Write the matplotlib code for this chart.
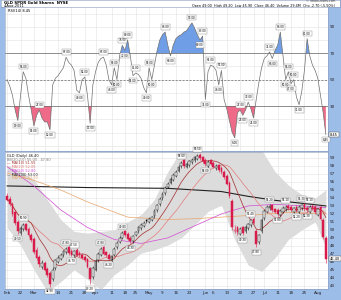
import numpy as np
import pandas as pd
import matplotlib
matplotlib.use("Agg")
import matplotlib.pyplot as plt

# ---- data ----
holidays = ["2011-02-21", "2011-04-22", "2011-05-30", "2011-07-04"]
dates = pd.bdate_range("2011-02-14", periods=120, freq="C", holidays=holidays)

opens = [54.3, 53.9, 53.3, 52.2, 51.0, 49.6, 50.1, 50.7, 50.1, 49.4,
         48.9, 47.5, 46.6, 45.4, 45.9, 45.1, 44.6, 43.8, 45.2, 46.0,
         46.4, 46.8, 47.2, 47.8, 47.3, 46.8, 47.5, 47.1, 46.9, 46.6,
         46.3, 45.2, 44.1, 45.0, 46.2, 46.9, 47.8, 47.2, 46.9, 46.2,
         46.9, 47.8, 48.5, 49.0, 49.8, 49.5, 49.0, 48.6, 49.4, 49.8,
         50.2, 50.5, 51.2, 51.0, 51.3, 51.7, 52.5, 53.2, 54.0, 54.6,
         55.4, 55.9, 56.3, 56.8, 57.4, 58.0, 58.7, 57.9, 58.1, 58.5,
         58.7, 58.9, 59.4, 59.1, 58.8, 58.0, 58.7, 58.4, 57.7, 58.1,
         57.8, 57.3, 56.8, 55.9, 53.6, 49.8, 50.3, 49.5, 50.3, 49.8,
         50.2, 50.6, 51.4, 49.9, 48.5, 49.8, 51.5, 52.3, 52.7, 53.1,
         52.6, 52.5, 51.9, 52.3, 52.6, 53.0, 52.9, 52.3, 52.9, 52.2,
         52.7, 53.2, 52.8, 52.3, 53.0, 52.9, 51.9, 52.9, 51.3, 49.0]
highs = [54.6, 54.2, 53.5, 52.4, 51.3, 50.5, 50.9, 50.9, 50.4, 49.6,
         49.1, 47.8, 46.9, 46.2, 46.1, 45.4, 44.9, 45.3, 46.4, 46.8,
         47.1, 47.5, 47.8, 48.0, 47.6, 47.5, 47.7, 47.3, 47.1, 46.8,
         46.5, 45.4, 45.5, 46.3, 47.2, 47.8, 48.0, 47.4, 47.1, 46.9,
         47.8, 48.6, 49.2, 49.8, 50.0, 49.7, 49.2, 49.4, 49.9, 50.5,
         50.8, 51.1, 51.4, 51.6, 51.8, 52.6, 53.3, 54.1, 54.7, 55.5,
         56.0, 56.6, 57.1, 57.5, 58.1, 58.6, 58.9, 58.5, 58.8, 59.0,
         59.2, 59.5, 59.6, 59.3, 59.0, 58.7, 58.9, 58.6, 58.2, 58.3,
         58.0, 57.5, 57.0, 56.1, 53.9, 50.6, 50.5, 50.3, 50.5, 50.6,
         50.9, 51.4, 51.6, 50.1, 49.5, 51.5, 52.6, 53.1, 53.2, 53.3,
         52.8, 52.7, 52.6, 53.0, 53.1, 53.2, 53.1, 52.9, 53.1, 53.1,
         53.3, 53.4, 53.0, 53.1, 53.2, 53.1, 52.8, 53.1, 51.5, 49.2]
lows = [53.6, 53.0, 51.8, 50.6, 49.5, 49.3, 49.8, 49.8, 49.1, 48.5,
        47.0, 46.2, 45.4, 45.1, 44.8, 44.1, 42.9, 43.6, 45.0, 45.8,
        46.2, 46.6, 47.0, 46.9, 46.7, 46.6, 46.7, 46.6, 46.3, 46.0,
        45.2, 43.2, 43.9, 44.8, 46.0, 46.7, 46.8, 46.6, 46.2, 46.0,
        46.7, 47.6, 48.3, 48.8, 49.1, 48.7, 48.3, 48.4, 49.2, 49.6,
        50.0, 50.3, 50.9, 50.8, 51.1, 51.5, 52.3, 53.0, 53.8, 54.4,
        55.2, 55.7, 56.1, 56.6, 57.2, 57.8, 57.8, 57.7, 57.9, 58.3,
        58.5, 58.7, 58.8, 58.4, 58.0, 57.8, 58.1, 57.7, 57.5, 57.3,
        57.0, 56.4, 55.6, 54.0, 50.0, 49.6, 49.4, 49.3, 49.3, 49.6,
        50.0, 50.4, 50.7, 47.8, 48.2, 49.6, 51.3, 52.1, 52.5, 52.3,
        52.1, 51.8, 51.7, 52.1, 52.4, 52.5, 52.3, 52.1, 52.2, 52.0,
        52.5, 52.4, 52.3, 52.1, 52.5, 52.0, 51.7, 51.2, 48.8, 45.9]
closes = [53.8, 53.2, 52.0, 50.9, 49.8, 50.2, 50.6, 50.0, 49.3, 48.7,
          47.2, 46.5, 45.7, 45.9, 45.0, 44.4, 43.2, 45.0, 46.2, 46.5,
          46.9, 47.3, 47.6, 47.1, 46.9, 47.3, 46.9, 46.8, 46.5, 46.2,
          45.4, 43.8, 45.2, 46.1, 47.0, 47.6, 47.0, 46.8, 46.4, 46.7,
          47.6, 48.4, 49.0, 49.6, 49.3, 48.9, 48.6, 49.2, 49.7, 50.3,
          50.6, 50.9, 51.1, 51.4, 51.6, 52.4, 53.1, 53.9, 54.5, 55.3,
          55.8, 56.4, 56.9, 57.3, 57.9, 58.4, 58.0, 58.3, 58.6, 58.8,
          59.1, 59.3, 59.0, 58.6, 58.2, 58.5, 58.3, 57.9, 58.0, 57.5,
          57.2, 56.6, 55.8, 54.2, 50.3, 50.0, 49.7, 50.1, 49.6, 50.4,
          50.7, 51.2, 50.9, 48.2, 49.3, 51.3, 52.4, 52.9, 53.0, 52.5,
          52.3, 52.0, 52.4, 52.8, 52.9, 52.7, 52.5, 52.7, 52.4, 52.9,
          53.1, 52.6, 52.5, 52.9, 52.7, 52.2, 52.6, 51.4, 49.1, 46.4]

rsi = [50, 45, 38, 27, 19, 38, 56, 51, 38, 27,
       15, 23, 27, 21, 18, 18, 12, 46, 51, 53,
       56, 59, 67, 63, 61, 57, 42, 40, 50, 52,
       38, 17, 46, 56, 63, 66, 67, 61, 50, 46,
       59, 50, 68, 76, 72, 80, 68, 53, 55, 54,
       51, 44, 40, 59, 50, 61, 72, 80, 84, 86,
       76, 68, 76, 81, 83, 84, 86, 87, 90, 93,
       89, 84, 80, 83, 35, 56, 61, 60, 57, 46,
       57, 35, 28, 19, 10, 6, 25, 27, 23, 27,
       33, 28, 21, 35, 48, 59, 66, 68, 71, 66,
       72, 76, 86, 68, 50, 56, 47, 50, 37, 31,
       41, 57, 81, 68, 61, 57, 51, 38, 25, 8.45]

# Bollinger bands and long moving averages (knots)
bb_idx = [0, 5, 10, 15, 20, 25, 30, 35, 40, 45, 50, 55, 60, 65, 70, 75, 80, 85, 90, 95, 100, 105, 110, 115, 119]
bb_upper = [58.1, 57.3, 56.3, 53.8, 51.3, 49.8, 49.6, 49.8, 50.0, 51.0, 51.9, 53.8, 57.3,
            60.0, 61.3, 61.3, 61.0, 61.5, 61.3, 60.0, 57.3, 55.6, 54.4, 54.0, 55.0]
bb_lower = [50.3, 48.1, 45.0, 42.3, 43.5, 45.0, 43.8, 42.5, 44.4, 45.6, 47.1, 47.5, 48.1,
            49.0, 50.6, 52.3, 53.1, 48.8, 45.6, 44.8, 46.5, 48.8, 50.0, 51.0, 47.8]

ma200_idx = [0, 30, 60, 80, 90, 100, 119]
ma200 = [55.5, 55.3, 55.2, 54.8, 54.2, 53.7, 53.0]
ma100_idx = [0, 10, 20, 30, 45, 60, 70, 80, 90, 105, 119]
ma100 = [57.1, 56.2, 55.0, 53.5, 51.6, 51.3, 51.4, 51.6, 51.8, 52.2, 52.0]
ma50_idx = [0, 10, 20, 30, 40, 50, 60, 70, 80, 90, 100, 110, 119]
ma50 = [57.9, 55.5, 52.5, 50.3, 48.8, 48.3, 49.0, 50.5, 52.0, 53.0, 53.2, 53.0, 52.8]

# ---- layout in pixels ----
W, H = 341, 300
BLUE = "#9dbde9"


def frac(x0, y0, x1, y1):
    return [x0 / W, 1 - y1 / H, (x1 - x0) / W, (y1 - y0) / H]


fig = plt.figure(figsize=(W / 100, H / 100), dpi=100, facecolor=BLUE)
ax_head = fig.add_axes(frac(1, 0, 340, 7))
ax_rsi = fig.add_axes(frac(5, 7, 328, 151))
ax_px = fig.add_axes(frac(5, 152, 328, 289), sharex=ax_rsi)

ax_head.set_facecolor("white")
ax_head.set_xticks([])
ax_head.set_yticks([])
for s in ax_head.spines.values():
    s.set_color("#8a9ab8")
    s.set_linewidth(0.4)
ax_head.text(0.008, 0.62, "GLD SPDR Gold Shares  NYSE", fontsize=2.8, va="center",
             transform=ax_head.transAxes, fontweight="bold")
ax_head.text(0.008, 0.12, dates[-1].strftime("%-d-%b-%Y"), fontsize=2.6, va="center",
             transform=ax_head.transAxes)
ax_head.text(0.985, 0.82, "© StockCharts.com", fontsize=2.2, va="center", ha="right",
             transform=ax_head.transAxes, color="#333")
ax_head.text(0.985, 0.2,
             "Open %.2f  High %.2f  Low %.2f  Close %.2f  Volume 29.4M  Chg %.2f (%.2f%%)"
             % (opens[-1], highs[-1], lows[-1], closes[-1], closes[-1] - closes[-2],
                100 * (closes[-1] - closes[-2]) / closes[-2]),
             fontsize=2.4, va="center", ha="right", transform=ax_head.transAxes)

n = len(closes)
x = np.arange(n)
rsi = np.array(rsi)

# month ticks first, then weekly ticks that do not crowd a month tick
month_pos = [i for i, d in enumerate(dates) if i == 0 or d.month != dates[i - 1].month]
ticks = {i: dates[i].strftime("%b") for i in month_pos}
for i, d in enumerate(dates):
    first_week = i == 0 or d.weekday() < dates[i - 1].weekday()
    if first_week and all(abs(i - m) > 2 for m in month_pos):
        ticks[i] = str(d.day)
tick_pos = sorted(ticks)
tick_lab = [ticks[i] for i in tick_pos]

for ax in (ax_rsi, ax_px):
    ax.set_facecolor("white")
    ax.set_xlim(-0.8, n - 0.2)
    ax.set_xticks(tick_pos)
    ax.grid(True, axis="x", color="#e2e2e2", lw=0.4)
    ax.grid(True, axis="y", which="both", color="#e2e2e2", lw=0.4)
    ax.set_axisbelow(True)
    ax.yaxis.tick_right()
    ax.tick_params(axis="both", length=0, labelsize=3, pad=1.5, colors="#222")
    for s in ax.spines.values():
        s.set_color("#8a9ab8")
        s.set_linewidth(0.4)

ax_rsi.tick_params(axis="x", labelbottom=False)
ax_px.set_xticklabels(tick_lab)

# ---- RSI panel ----
ax_rsi.set_ylim(-4, 105)
ax_rsi.set_yticks([30, 50, 70, 90])
ax_rsi.set_yticks(np.arange(0, 101, 10), minor=True)
ax_rsi.tick_params(which="minor", length=0)
ax_rsi.fill_between(x, rsi, 70, where=rsi >= 70, interpolate=True, color="#6f9de6", lw=0)
ax_rsi.fill_between(x, rsi, 30, where=rsi <= 30, interpolate=True, color="#ee6a88", lw=0)
ax_rsi.axhline(70, color="#666", lw=0.5)
ax_rsi.axhline(30, color="#666", lw=0.5)
ax_rsi.axhline(50, color="#666", lw=0.5, ls=(0, (3, 2)))
ax_rsi.plot(x, rsi, color="#707070", lw=0.5)
ax_rsi.text(0.008, 0.985, "RSI(14) %.2f" % rsi[-1], fontsize=2.6, va="top",
            transform=ax_rsi.transAxes)

box = dict(boxstyle="square,pad=0.25", fc="white", ec="#888", lw=0.3)
for i in range(1, n - 1):
    if rsi[i] > rsi[i - 1] and rsi[i] > rsi[i + 1]:
        ax_rsi.annotate("%.2f" % rsi[i], (i, rsi[i]), xytext=(0, 2.2), textcoords="offset points",
                        ha="center", va="bottom", fontsize=2, bbox=box)
    elif rsi[i] < rsi[i - 1] and rsi[i] < rsi[i + 1]:
        ax_rsi.annotate("%.2f" % rsi[i], (i, rsi[i]), xytext=(0, -2.2), textcoords="offset points",
                        ha="center", va="top", fontsize=2, bbox=box)
ax_rsi.annotate("%.2f" % rsi[-1], (n - 1, rsi[-1]), xytext=(0, -2.2), textcoords="offset points",
                ha="center", va="top", fontsize=2, bbox=box)
ax_rsi.annotate("%.2f" % rsi[-1], (1, rsi[-1]), xycoords=("axes fraction", "data"),
                xytext=(1.5, 0), textcoords="offset points", va="center", fontsize=2.6,
                bbox=dict(boxstyle="square,pad=0.2", fc="white", ec="#444", lw=0.3))

# ---- price panel ----
ax_px.set_ylim(42.6, 59.75)
ax_px.set_yticks(np.arange(43, 60, 1))
ax_px.fill_between(bb_idx, bb_lower, bb_upper, color="#dcdcdc", lw=0, zorder=1)

ma10 = pd.Series(closes).rolling(10, min_periods=1).mean()
ma20 = pd.Series(closes).rolling(20, min_periods=1).mean()
ax_px.plot(ma200_idx, ma200, color="#222", lw=0.8, zorder=2)
ax_px.plot(ma100_idx, ma100, color="#e9a46a", lw=0.5, zorder=2)
ax_px.plot(ma50_idx, ma50, color="#d24bd2", lw=0.5, zorder=2)
ax_px.plot(x, ma20, color="#e57a7a", lw=0.5, zorder=2)
ax_px.plot(x, ma10, color="#a52a2a", lw=0.5, zorder=2)

for i in range(n):
    o, h, l, c = opens[i], highs[i], lows[i], closes[i]
    prev = closes[i - 1] if i else o
    col = "#d81b4a" if c < prev else "#111111"
    ax_px.vlines(i, l, h, color=col, lw=0.4, zorder=3)
    face = "white" if c >= o else col
    ax_px.bar(i, abs(c - o) if abs(c - o) > 0.05 else 0.05, bottom=min(o, c), width=0.65,
              color=face, edgecolor=col, lw=0.35, zorder=4)

cl = np.array(closes)
for i in range(2, n - 2):
    win = cl[i - 2:i + 3]
    if cl[i] == win.max() and cl[i] > cl[i - 1]:
        ax_px.annotate("%.2f" % highs[i], (i, highs[i]), xytext=(0, 2), textcoords="offset points",
                       ha="center", va="bottom", fontsize=2, bbox=box, zorder=6)
    elif cl[i] == win.min() and cl[i] < cl[i - 1]:
        ax_px.annotate("%.2f" % lows[i], (i, lows[i]), xytext=(0, -2), textcoords="offset points",
                       ha="center", va="top", fontsize=2, bbox=box, zorder=6)
ax_px.annotate("%.2f" % closes[-1], (1, closes[-1]), xycoords=("axes fraction", "data"),
               xytext=(1.5, 0), textcoords="offset points", va="center", fontsize=2.6,
               bbox=dict(boxstyle="square,pad=0.2", fc="white", ec="#444", lw=0.3))

legend = [
    ("GLD (Daily) %.2f" % closes[-1], "#111"),
    ("BB(20,2.0) %.2f - %.2f" % (bb_upper[-1], bb_lower[-1]), "#777"),
    ("— MA(10) %.2f" % ma10.iloc[-1], "#a52a2a"),
    ("— MA(20) %.2f" % ma20.iloc[-1], "#e57a7a"),
    ("— MA(50) %.2f" % ma50[-1], "#d24bd2"),
    ("— MA(200) %.2f" % ma200[-1], "#222"),
    ("— MA(100) %.2f" % ma100[-1], "#e9a46a"),
]
for k, (t, c) in enumerate(legend):
    ax_px.text(0.006, 0.985 - k * 0.027, t, color=c, fontsize=2.5, va="top",
               transform=ax_px.transAxes, zorder=7)

fig.savefig("out.png", dpi=100, facecolor=BLUE)
